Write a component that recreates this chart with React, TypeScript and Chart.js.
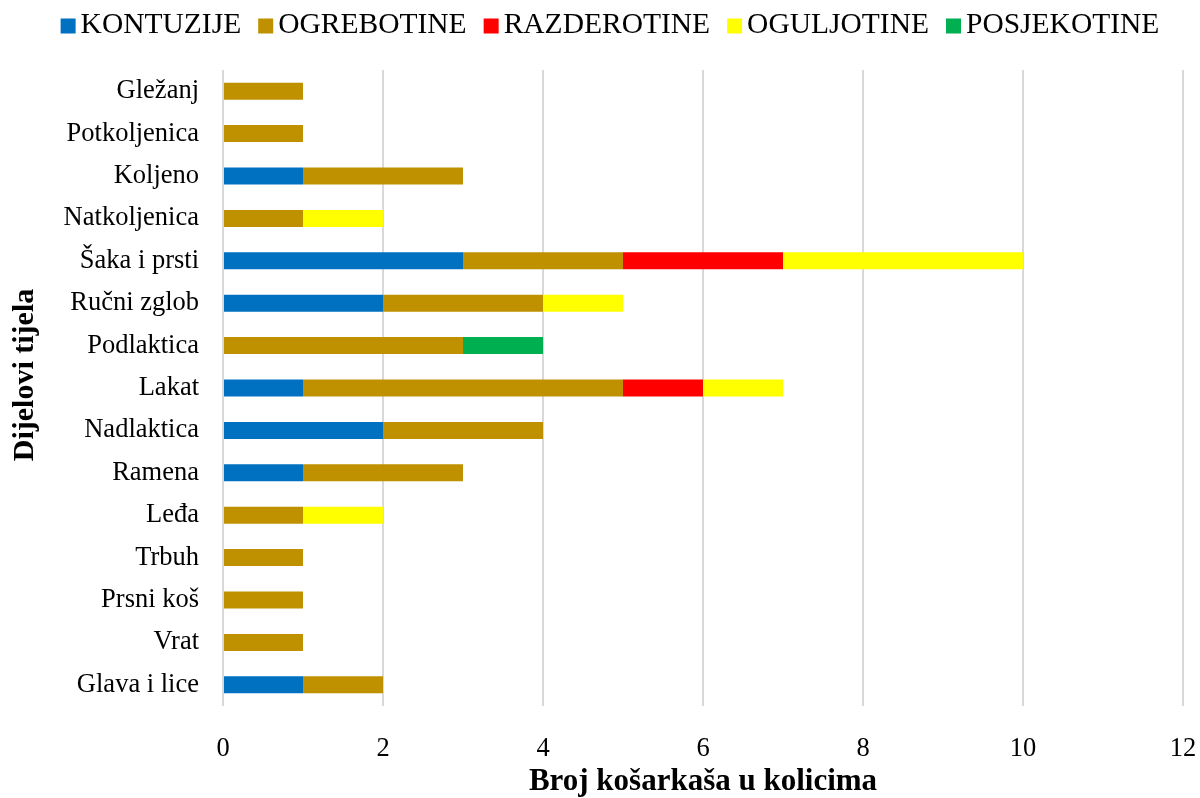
import React, { useEffect, useRef } from "react";
import { Chart, registerables } from "chart.js";

Chart.register(...registerables);

const categories = [
  "Gležanj",
  "Potkoljenica",
  "Koljeno",
  "Natkoljenica",
  "Šaka i prsti",
  "Ručni zglob",
  "Podlaktica",
  "Lakat",
  "Nadlaktica",
  "Ramena",
  "Leđa",
  "Trbuh",
  "Prsni koš",
  "Vrat",
  "Glava i lice",
];

const kontuzije = [0, 0, 1, 0, 3, 2, 0, 1, 2, 1, 0, 0, 0, 0, 1];
const ogrebotine = [1, 1, 2, 1, 2, 2, 3, 4, 2, 2, 1, 1, 1, 1, 1];
const razderotine = [0, 0, 0, 0, 2, 0, 0, 1, 0, 0, 0, 0, 0, 0, 0];
const oguljotine = [0, 0, 0, 1, 3, 1, 0, 1, 0, 0, 1, 0, 0, 0, 0];
const posjekotine = [0, 0, 0, 0, 0, 0, 1, 0, 0, 0, 0, 0, 0, 0, 0];

const seriesNames = ["KONTUZIJE", "OGREBOTINE", "RAZDEROTINE", "OGULJOTINE", "POSJEKOTINE"];
const seriesColors = ["#0070C0", "#BF9000", "#FF0000", "#FFFF00", "#00B050"];

const xTitle = "Broj košarkaša u kolicima";
const yTitle = "Dijelovi tijela";

const FONT = "'Liberation Serif', 'Times New Roman', serif";

export default function App() {
  const ref = useRef<HTMLCanvasElement>(null);

  useEffect(() => {
    document.body.style.margin = "0";
    const values = [kontuzije, ogrebotine, razderotine, oguljotine, posjekotine];

    const customPlugin = {
      id: "customDecor",
      afterDraw(chart: any) {
        const ctx = chart.ctx;
        const area = chart.chartArea;
        ctx.save();
        ctx.fillStyle = "#000";
        ctx.textBaseline = "middle";

        // legend
        ctx.font = `29.5px ${FONT}`;
        const box = 15;
        const gap = 5;
        const spacing = 17;
        const widths = seriesNames.map((n) => ctx.measureText(n).width);
        const total =
          widths.reduce((a, w) => a + box + gap + w, 0) + spacing * (seriesNames.length - 1);
        let x = chart.width / 2 + 10 - total / 2;
        const cy = 26;
        seriesNames.forEach((n, i) => {
          ctx.fillStyle = seriesColors[i];
          ctx.fillRect(x, cy - box / 2, box, box);
          ctx.fillStyle = "#000";
          ctx.textAlign = "left";
          ctx.fillText(n, x + box + gap, cy - 1);
          x += box + gap + widths[i] + spacing;
        });

        // axis titles
        ctx.font = `bold 31px ${FONT}`;
        ctx.textAlign = "center";
        ctx.fillText(xTitle, (area.left + area.right) / 2, 782);
        ctx.font = `bold 30px ${FONT}`;
        ctx.translate(25, 375);
        ctx.rotate(-Math.PI / 2);
        ctx.fillText(yTitle, 0, 0);
        ctx.restore();
      },
    };

    const chart = new Chart(ref.current!, {
      type: "bar",
      data: {
        labels: categories,
        datasets: seriesNames.map((name, i) => ({
          label: name,
          data: values[i],
          backgroundColor: seriesColors[i],
          borderWidth: 0,
          barPercentage: 0.4,
          categoryPercentage: 1,
        })),
      },
      options: {
        indexAxis: "y",
        animation: false,
        responsive: false,
        maintainAspectRatio: false,
        layout: { padding: { left: 0, right: 17, top: 70, bottom: 34 } },
        plugins: {
          legend: { display: false },
          tooltip: { enabled: false },
        },
        scales: {
          x: {
            stacked: true,
            min: 0,
            max: 12,
            afterFit: (scale: any) => {
              scale.height = 58;
              scale.paddingLeft = 0;
              scale.paddingRight = 0;
            },
            ticks: {
              stepSize: 2,
              font: { family: FONT, size: 26.5 },
              color: "#000",
              padding: 27,
            },
            grid: { color: "#D9D9D9", lineWidth: 2, drawTicks: false },
            border: { display: false },
          },
          y: {
            stacked: true,
            afterFit: (scale: any) => {
              scale.width = 223;
            },
            ticks: {
              font: { family: FONT, size: 26.5 },
              color: "#000",
              padding: 24,
            },
            grid: { display: false, drawTicks: false },
            border: { display: false },
          },
        },
      },
      plugins: [customPlugin],
    });
    return () => chart.destroy();
  }, []);

  return (
    <div style={{ width: 1200, height: 798, position: "relative" }}>
      <canvas ref={ref} width={1200} height={798} style={{ display: "block" }} />
    </div>
  );
}
